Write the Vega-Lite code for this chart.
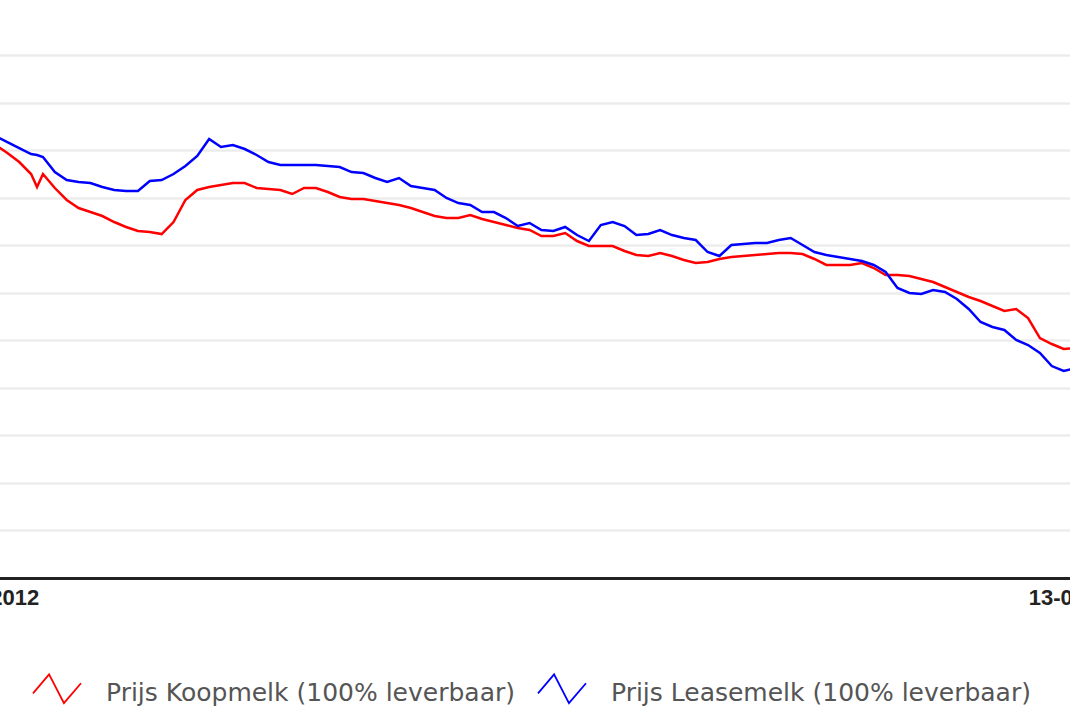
{
  "$schema": "https://vega.github.io/schema/vega-lite/v6.json",
  "description": "Prijs Koopmelk en Leasemelk (100% leverbaar)",
  "width": 1070,
  "height": 578,
  "autosize": {"type": "none"},
  "padding": {"left": 0, "top": 0, "right": 0, "bottom": 135},
  "background": "white",
  "config": {"view": {"stroke": null}},
  "data": {
    "values": [
      {"datum": "2012-03-13", "koop": 9.106, "lease": 9.295},
      {"datum": "2012-03-17", "koop": 8.938, "lease": 9.169},
      {"datum": "2012-03-21", "koop": 8.749, "lease": 9.043},
      {"datum": "2012-03-25", "koop": 8.496, "lease": 8.917},
      {"datum": "2012-03-27", "koop": 8.223, "lease": 8.896},
      {"datum": "2012-03-29", "koop": 8.496, "lease": 8.854},
      {"datum": "2012-04-02", "koop": 8.202, "lease": 8.538},
      {"datum": "2012-04-06", "koop": 7.950, "lease": 8.370},
      {"datum": "2012-04-10", "koop": 7.781, "lease": 8.328},
      {"datum": "2012-04-14", "koop": 7.697, "lease": 8.307},
      {"datum": "2012-04-18", "koop": 7.613, "lease": 8.223},
      {"datum": "2012-04-22", "koop": 7.487, "lease": 8.160},
      {"datum": "2012-04-26", "koop": 7.382, "lease": 8.139},
      {"datum": "2012-04-30", "koop": 7.298, "lease": 8.139},
      {"datum": "2012-05-04", "koop": 7.277, "lease": 8.349},
      {"datum": "2012-05-08", "koop": 7.234, "lease": 8.370},
      {"datum": "2012-05-12", "koop": 7.487, "lease": 8.496},
      {"datum": "2012-05-16", "koop": 7.950, "lease": 8.665},
      {"datum": "2012-05-20", "koop": 8.160, "lease": 8.875},
      {"datum": "2012-05-24", "koop": 8.223, "lease": 9.232},
      {"datum": "2012-05-28", "koop": 8.265, "lease": 9.064},
      {"datum": "2012-06-01", "koop": 8.307, "lease": 9.106},
      {"datum": "2012-06-05", "koop": 8.307, "lease": 9.022},
      {"datum": "2012-06-09", "koop": 8.202, "lease": 8.896},
      {"datum": "2012-06-13", "koop": 8.181, "lease": 8.749},
      {"datum": "2012-06-17", "koop": 8.160, "lease": 8.686},
      {"datum": "2012-06-21", "koop": 8.076, "lease": 8.686},
      {"datum": "2012-06-25", "koop": 8.202, "lease": 8.686},
      {"datum": "2012-06-29", "koop": 8.202, "lease": 8.686},
      {"datum": "2012-07-03", "koop": 8.118, "lease": 8.665},
      {"datum": "2012-07-07", "koop": 8.013, "lease": 8.644},
      {"datum": "2012-07-11", "koop": 7.971, "lease": 8.538},
      {"datum": "2012-07-15", "koop": 7.971, "lease": 8.517},
      {"datum": "2012-07-19", "koop": 7.928, "lease": 8.412},
      {"datum": "2012-07-23", "koop": 7.886, "lease": 8.328},
      {"datum": "2012-07-27", "koop": 7.844, "lease": 8.412},
      {"datum": "2012-07-31", "koop": 7.781, "lease": 8.244},
      {"datum": "2012-08-04", "koop": 7.697, "lease": 8.202},
      {"datum": "2012-08-08", "koop": 7.613, "lease": 8.160},
      {"datum": "2012-08-12", "koop": 7.571, "lease": 7.992},
      {"datum": "2012-08-16", "koop": 7.571, "lease": 7.886},
      {"datum": "2012-08-20", "koop": 7.634, "lease": 7.844},
      {"datum": "2012-08-24", "koop": 7.550, "lease": 7.697},
      {"datum": "2012-08-28", "koop": 7.487, "lease": 7.697},
      {"datum": "2012-09-01", "koop": 7.424, "lease": 7.571},
      {"datum": "2012-09-05", "koop": 7.361, "lease": 7.403},
      {"datum": "2012-09-09", "koop": 7.319, "lease": 7.466},
      {"datum": "2012-09-13", "koop": 7.192, "lease": 7.319},
      {"datum": "2012-09-17", "koop": 7.192, "lease": 7.298},
      {"datum": "2012-09-21", "koop": 7.256, "lease": 7.382},
      {"datum": "2012-09-25", "koop": 7.087, "lease": 7.213},
      {"datum": "2012-09-29", "koop": 6.982, "lease": 7.087},
      {"datum": "2012-10-03", "koop": 6.982, "lease": 7.424},
      {"datum": "2012-10-07", "koop": 6.982, "lease": 7.487},
      {"datum": "2012-10-11", "koop": 6.877, "lease": 7.403},
      {"datum": "2012-10-15", "koop": 6.793, "lease": 7.213},
      {"datum": "2012-10-19", "koop": 6.772, "lease": 7.234},
      {"datum": "2012-10-23", "koop": 6.835, "lease": 7.319},
      {"datum": "2012-10-27", "koop": 6.772, "lease": 7.213},
      {"datum": "2012-10-31", "koop": 6.688, "lease": 7.150},
      {"datum": "2012-11-04", "koop": 6.625, "lease": 7.108},
      {"datum": "2012-11-08", "koop": 6.646, "lease": 6.856},
      {"datum": "2012-11-12", "koop": 6.709, "lease": 6.772},
      {"datum": "2012-11-16", "koop": 6.751, "lease": 7.003},
      {"datum": "2012-11-20", "koop": 6.772, "lease": 7.024},
      {"datum": "2012-11-24", "koop": 6.793, "lease": 7.045},
      {"datum": "2012-11-28", "koop": 6.814, "lease": 7.045},
      {"datum": "2012-12-02", "koop": 6.835, "lease": 7.108},
      {"datum": "2012-12-06", "koop": 6.835, "lease": 7.150},
      {"datum": "2012-12-10", "koop": 6.814, "lease": 7.003},
      {"datum": "2012-12-14", "koop": 6.709, "lease": 6.856},
      {"datum": "2012-12-18", "koop": 6.583, "lease": 6.793},
      {"datum": "2012-12-22", "koop": 6.583, "lease": 6.751},
      {"datum": "2012-12-26", "koop": 6.583, "lease": 6.709},
      {"datum": "2012-12-30", "koop": 6.625, "lease": 6.667},
      {"datum": "2013-01-03", "koop": 6.519, "lease": 6.583},
      {"datum": "2013-01-07", "koop": 6.372, "lease": 6.435},
      {"datum": "2013-01-11", "koop": 6.372, "lease": 6.099},
      {"datum": "2013-01-15", "koop": 6.351, "lease": 5.994},
      {"datum": "2013-01-19", "koop": 6.288, "lease": 5.973},
      {"datum": "2013-01-23", "koop": 6.225, "lease": 6.057},
      {"datum": "2013-01-27", "koop": 6.120, "lease": 6.015},
      {"datum": "2013-01-31", "koop": 6.015, "lease": 5.868},
      {"datum": "2013-02-04", "koop": 5.910, "lease": 5.657},
      {"datum": "2013-02-08", "koop": 5.825, "lease": 5.384},
      {"datum": "2013-02-12", "koop": 5.720, "lease": 5.279},
      {"datum": "2013-02-16", "koop": 5.615, "lease": 5.216},
      {"datum": "2013-02-20", "koop": 5.657, "lease": 5.005},
      {"datum": "2013-02-24", "koop": 5.468, "lease": 4.900},
      {"datum": "2013-02-28", "koop": 5.047, "lease": 4.732},
      {"datum": "2013-03-04", "koop": 4.921, "lease": 4.458},
      {"datum": "2013-03-08", "koop": 4.816, "lease": 4.353},
      {"datum": "2013-03-12", "koop": 4.837, "lease": 4.416}
    ]
  },
  "transform": [
    {"fold": ["koop", "lease"], "as": ["reeks", "prijs"]}
  ],
  "mark": {"type": "line", "strokeWidth": 2.5, "interpolate": "linear"},
  "encoding": {
    "x": {
      "field": "datum",
      "type": "temporal",
      "scale": {
        "type": "utc",
        "domain": [
          {"year": 2012, "month": 3, "date": 13, "utc": true},
          {"year": 2013, "month": 3, "date": 13, "utc": true}
        ],
        "range": [-4.5, 1078.5]
      },
      "axis": {
        "title": null,
        "values": [
          {"year": 2012, "month": 3, "date": 13, "utc": true},
          {"year": 2013, "month": 3, "date": 13, "utc": true}
        ],
        "format": "%d-%m-%Y",
        "grid": false,
        "ticks": false,
        "labelFlush": false,
        "labelOverlap": false,
        "labelBound": false,
        "labelAlign": "center",
        "labelOffset": {"condition": {"test": "utcyear(datum.value) == 2012", "value": -13}, "value": 6},
        "labelFont": "Liberation Sans",
        "labelFontSize": 22,
        "labelFontWeight": "bold",
        "labelColor": "#222222",
        "labelPadding": 9,
        "domainColor": "#222222",
        "domainWidth": 3
      }
    },
    "y": {
      "field": "prijs",
      "type": "quantitative",
      "scale": {"domain": [0, 12.156], "nice": false, "zero": true},
      "axis": {
        "title": null,
        "values": [1, 2, 3, 4, 5, 6, 7, 8, 9, 10, 11],
        "labels": false,
        "ticks": false,
        "domain": false,
        "grid": true,
        "gridColor": "#ececec",
        "gridWidth": 2.5
      }
    },
    "color": {
      "field": "reeks",
      "type": "nominal",
      "scale": {"domain": ["koop", "lease"], "range": ["#ff0000", "#0000ff"]},
      "legend": {
        "title": null,
        "orient": "none",
        "legendX": 32,
        "legendY": 664,
        "direction": "horizontal",
        "padding": 0,
        "symbolType": "M-1,0.17L-0.33,-0.62L0.29,0.58L1,-0.25",
        "symbolSize": 2304,
        "symbolStrokeWidth": 1.8,
        "symbolFillColor": "transparent",
        "labelExpr": "datum.value == 'koop' ? 'Prijs Koopmelk (100% leverbaar)' : 'Prijs Leasemelk (100% leverbaar)'",
        "labelFont": "DejaVu Sans",
        "labelFontSize": 25,
        "labelColor": "#555555",
        "labelOffset": 24,
        "columnPadding": 19,
        "labelLimit": 600,
        "encode": {
          "symbols": {"update": {"fill": {"value": "transparent"}}},
          "labels": {"update": {"dy": {"value": 4}}}
        }
      }
    }
  }
}
